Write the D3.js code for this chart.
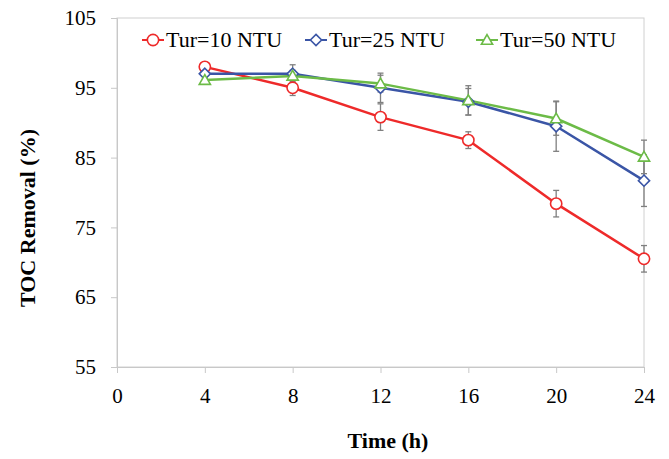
<!DOCTYPE html>
<html>
<head>
<meta charset="utf-8">
<script src="https://cdn.jsdelivr.net/npm/d3@7"></script>
<style>
  body { margin: 0; background: #fff; }
  svg { display: block; font-family: "Liberation Serif", "Times New Roman", serif; }
</style>
</head>
<body>
<div id="chart"></div>
<script>
const times = [4, 8, 12, 16, 20, 24];
const xTicks = [0, 4, 8, 12, 16, 20, 24];
const yTicks = [55, 65, 75, 85, 95, 105];

const tur10 = [98.0, 95.0, 90.8, 87.5, 78.4, 70.5];
const tur10Err = [0.3, 1.1, 1.9, 1.2, 1.9, 1.9];
const tur25 = [97.0, 97.0, 95.0, 93.0, 89.5, 81.7];
const tur25Err = [0.3, 1.3, 2.1, 1.9, 3.6, 3.7];
const tur50 = [96.1, 96.7, 95.6, 93.2, 90.6, 85.1];
const tur50Err = [0.3, 0.8, 1.2, 2.1, 2.4, 2.4];

const seriesNames = ["Tur=10 NTU", "Tur=25 NTU", "Tur=50 NTU"];

function LineChart(id, {
    width = 669,
    height = 459,
    marginTop = 18,
    marginRight = 25,
    marginBottom = 92,
    marginLeft = 117
  } = {}) {
  const series = [
    { name: seriesNames[0], values: tur10, err: tur10Err, color: "#ee2a2a", symbol: "circle" },
    { name: seriesNames[1], values: tur25, err: tur25Err, color: "#3a55a6", symbol: "diamond" },
    { name: seriesNames[2], values: tur50, err: tur50Err, color: "#6cbb47", symbol: "triangle" }
  ];

  const xScale = d3.scaleLinear([0, 24], [marginLeft, width - marginRight]);
  const yScale = d3.scaleLinear([55, 105], [height - marginBottom, marginTop]);

  const svg = d3.select(id)
    .append("svg")
    .attr("width", width)
    .attr("height", height)
    .attr("viewBox", [0, 0, width, height]);

  // plot border
  svg.append("rect")
    .attr("x", xScale(0))
    .attr("y", yScale(105))
    .attr("width", xScale(24) - xScale(0))
    .attr("height", yScale(55) - yScale(105))
    .attr("fill", "none")
    .attr("stroke", "#d0d0d0")
    .attr("stroke-width", 1);

  const xAxis = d3.axisBottom(xScale).tickValues(xTicks).tickSize(6).tickPadding(15);
  const yAxis = d3.axisLeft(yScale).tickValues(yTicks).tickSize(6).tickPadding(15);

  svg.append("g")
    .attr("transform", `translate(0,${yScale(55)})`)
    .call(xAxis)
    .call(g => g.selectAll(".domain, .tick line").attr("stroke", "#c8c8c8"))
    .call(g => g.selectAll("text").attr("font-size", 21).attr("fill", "#000")
      .attr("font-family", "Liberation Serif, Times New Roman, serif"));

  svg.append("g")
    .attr("transform", `translate(${xScale(0)},0)`)
    .call(yAxis)
    .call(g => g.selectAll(".domain, .tick line").attr("stroke", "#c8c8c8"))
    .call(g => g.selectAll("text").attr("font-size", 21).attr("fill", "#000")
      .attr("font-family", "Liberation Serif, Times New Roman, serif"));

  // axis titles
  svg.append("text")
    .attr("x", 388)
    .attr("y", 448)
    .attr("text-anchor", "middle")
    .attr("font-size", 22)
    .attr("font-weight", "bold")
    .text("Time (h)");

  svg.append("text")
    .attr("transform", `translate(35,218) rotate(-90)`)
    .attr("text-anchor", "middle")
    .attr("font-size", 22)
    .attr("font-weight", "bold")
    .text("TOC Removal (%)");

  const line = d3.line()
    .x((d, i) => xScale(times[i]))
    .y(d => yScale(d));

  const symbolOf = s => s === "circle"
    ? d3.symbol(d3.symbolCircle, 100)
    : s === "diamond" ? d3.symbol(d3.symbolDiamond2, 80) : d3.symbol(d3.symbolTriangle2, 90);

  // error bars
  series.forEach(s => {
    const g = svg.append("g").attr("stroke", "#7f7f7f").attr("stroke-width", 1.3);
    s.values.forEach((v, i) => {
      const x = xScale(times[i]);
      const y0 = yScale(v - s.err[i]), y1 = yScale(v + s.err[i]);
      g.append("line").attr("x1", x).attr("x2", x).attr("y1", y0).attr("y2", y1);
      g.append("line").attr("x1", x - 3).attr("x2", x + 3).attr("y1", y0).attr("y2", y0);
      g.append("line").attr("x1", x - 3).attr("x2", x + 3).attr("y1", y1).attr("y2", y1);
    });
  });

  // lines and markers
  series.forEach(s => {
    svg.append("path")
      .attr("fill", "none")
      .attr("stroke", s.color)
      .attr("stroke-width", 2.5)
      .attr("stroke-linejoin", "round")
      .attr("d", line(s.values));
  });
  series.forEach(s => {
    svg.append("g").selectAll("path")
      .data(s.values)
      .join("path")
      .attr("transform", (d, i) => `translate(${xScale(times[i])},${yScale(d) + (s.symbol === "triangle" ? 1 : 0)})`)
      .attr("d", symbolOf(s.symbol))
      .attr("fill", "#fff")
      .attr("stroke", s.color)
      .attr("stroke-width", 1.6);
  });

  // legend
  const legendX = [142, 305, 476];
  series.forEach((s, i) => {
    const g = svg.append("g").attr("transform", `translate(${legendX[i]},40)`);
    g.append("line").attr("x1", 0).attr("x2", 22).attr("stroke", s.color).attr("stroke-width", 2);
    g.append("path")
      .attr("transform", `translate(11,${s.symbol === "triangle" ? 1 : 0})`)
      .attr("d", symbolOf(s.symbol))
      .attr("fill", "#fff")
      .attr("stroke", s.color)
      .attr("stroke-width", 1.6);
    g.append("text")
      .attr("x", 24)
      .attr("y", 7)
      .attr("font-size", 22)
      .text(s.name);
  });

  return svg;
}

LineChart("#chart");
</script>
</body>
</html>
